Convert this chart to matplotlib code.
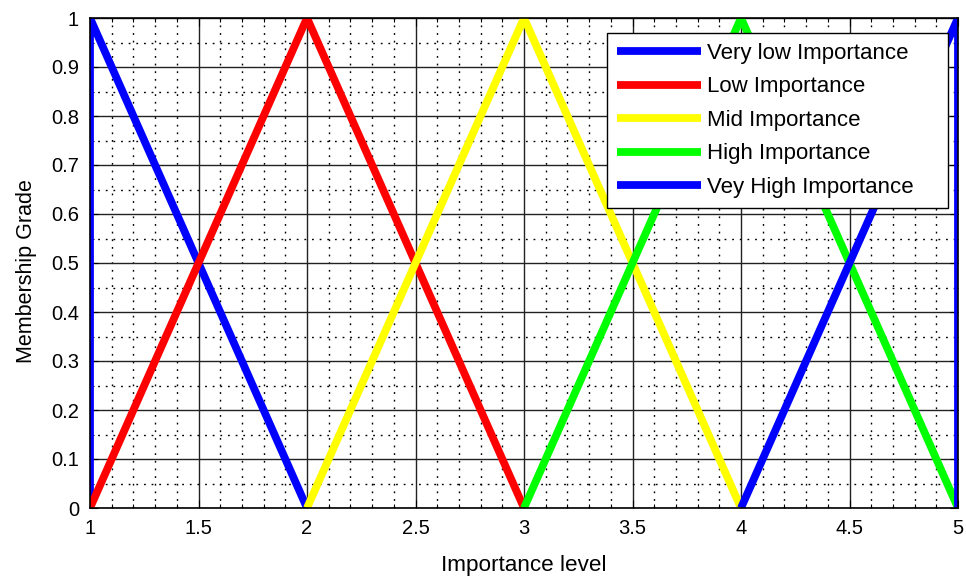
import numpy as np
import matplotlib
matplotlib.use("Agg")
import matplotlib.pyplot as plt
from matplotlib.ticker import MultipleLocator

# --------------- Membership functions ---------------
x_very_low = [1, 1, 2]
y_very_low = [0, 1, 0]
x_low = [1, 2, 3]
y_low = [0, 1, 0]
x_mid = [2, 3, 4]
y_mid = [0, 1, 0]
x_high = [3, 4, 5]
y_high = [0, 1, 0]
x_very_high = [4, 5, 5]
y_very_high = [0, 1, 0]

labels = ['Very low Importance', 'Low Importance', 'Mid Importance',
          'High Importance', 'Vey High Importance']
colors = ['#0000ff', '#ff0000', '#ffff00', '#00ff00', '#0000ff']
xs = [x_very_low, x_low, x_mid, x_high, x_very_high]
ys = [y_very_low, y_low, y_mid, y_high, y_very_high]

plt.rcParams['font.family'] = ['Liberation Sans', 'DejaVu Sans']

fig = plt.figure(figsize=(9.66, 5.77), dpi=100)
ax = fig.add_axes([90/966, 1 - 508/577, 868/966, 490/577])

for xx, yy, c, lab in zip(xs, ys, colors, labels):
    ax.plot(xx, yy, color=c, lw=5.6, label=lab,
            solid_joinstyle='miter', solid_capstyle='butt')

ax.set_xlim(1, 5)
ax.set_ylim(0, 1)
ax.xaxis.set_major_locator(MultipleLocator(0.5))
ax.xaxis.set_minor_locator(MultipleLocator(0.1))
ax.yaxis.set_major_locator(MultipleLocator(0.1))
ax.yaxis.set_minor_locator(MultipleLocator(0.05))
fmt = plt.FuncFormatter(lambda v, p: '%g' % round(v, 2))
ax.xaxis.set_major_formatter(fmt)
ax.yaxis.set_major_formatter(fmt)

# solid major grid, dotted minor grid
ax.grid(which='major', color='#222222', linestyle='-', linewidth=1.0)
ax.grid(which='minor', color='black', linestyle=(0, (1.3, 4.2)), linewidth=1.0)
ax.set_axisbelow(True)

ax.tick_params(which='both', direction='in', top=True, right=True,
               labelsize=14.5, width=0.8, colors='black', pad=8)
ax.tick_params(which='major', length=6)
ax.tick_params(which='minor', length=3)
for s in ax.spines.values():
    s.set_color('black')
    s.set_linewidth(1.2)

ax.set_xlabel('Importance level', fontsize=16.2, labelpad=12)
ax.set_ylabel('Membership Grade', fontsize=15.5, labelpad=10)
ax.yaxis.label.set_y(0.484)

leg = ax.legend(loc='upper left', bbox_to_anchor=(0.5956, 0.0, 0.3929, 0.9694),
                mode='expand', borderaxespad=0, fontsize=16, fancybox=False,
                framealpha=1, edgecolor='black', handlelength=3.8,
                handletextpad=0.25, labelspacing=0.56, borderpad=0.45)
leg.get_frame().set_linewidth(1.0)

plt.savefig('out.png', dpi=100)
